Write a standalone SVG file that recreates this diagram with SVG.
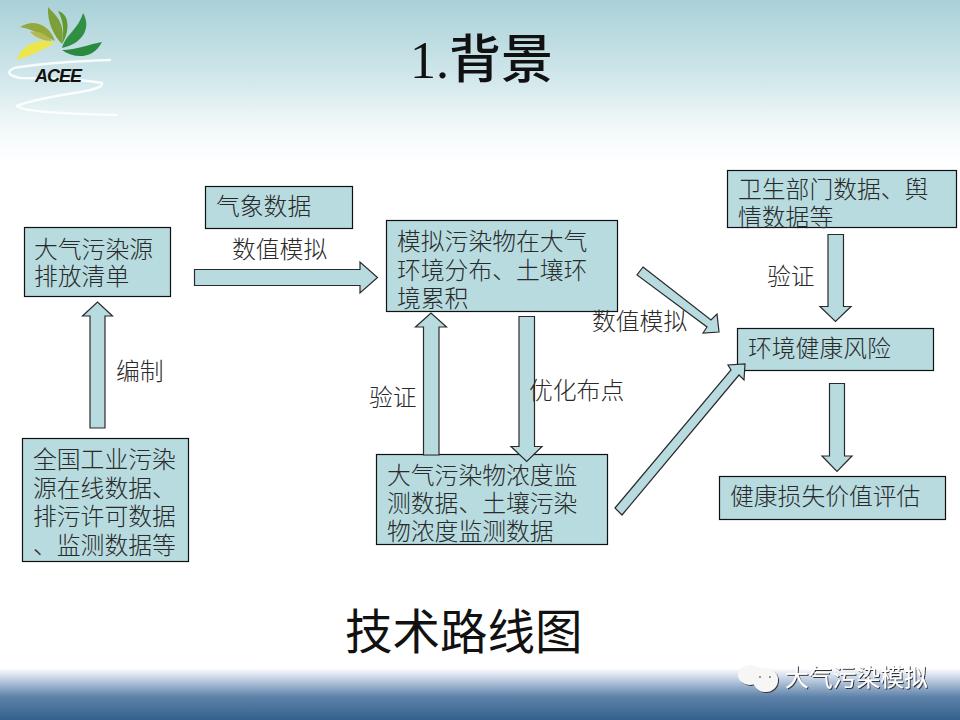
<svg xmlns="http://www.w3.org/2000/svg" width="960" height="720" viewBox="0 0 960 720">
<style>
.b{fill:#b7dbdf;stroke:#111;stroke-width:1.2}
.a{fill:#b7dbdf;stroke:#2a2a2a;stroke-width:1.2;stroke-linejoin:miter}
text{font-family:"Liberation Serif","Noto Sans CJK SC",serif;font-weight:300;fill:#2a2a2a}
.t{font-size:23.8px}
.l{font-size:23.8px}
.sw{fill:none;stroke:#fff;stroke-width:2.500;opacity:.85;stroke-linecap:round}
</style>
<defs>
<linearGradient id="sky" x1="0" y1="0" x2="0" y2="1">
<stop offset="0" stop-color="#a9d1d8"/><stop offset="0.45" stop-color="#cfe6ea"/><stop offset="0.8" stop-color="#f4fafb"/><stop offset="1" stop-color="#fff"/>
</linearGradient>
<linearGradient id="sea" x1="0" y1="0" x2="0" y2="1">
<stop offset="0" stop-color="#ffffff"/><stop offset="0.2" stop-color="#c5d3e6"/><stop offset="0.55" stop-color="#5f83aa"/><stop offset="1" stop-color="#34608e"/>
</linearGradient>
<filter id="sh" x="-10%" y="-20%" width="120%" height="150%"><feDropShadow dx="1" dy="1" stdDeviation="0.7" flood-color="#333"/></filter>
</defs>
<rect width="960" height="720" fill="#fff"/>
<rect width="960" height="165" fill="url(#sky)"/>
<rect y="668" width="960" height="52" fill="url(#sea)"/>

<g id="logo">
<path class="sw" d="M110 60Q50 62 14 68Q2 74 20 78Q70 78 102 83Q104 88 80 92Q30 100 17 106Q22 113 117 115"/>
<path d="M48 7C55 15 66 22 62 44C54 36 47 22 48 7Z" fill="#7c9f37"/>
<path d="M58 11C70 14 70 32 62 44C64 32 64 22 58 11Z" fill="#5f9a33"/>
<path d="M20 27C38 16 52 30 55 41C44 36 32 29 20 27Z" fill="#94a83d"/>
<path d="M30 32C38 30 48 36 52 41C44 41 36 38 30 32Z" fill="#b3b94c"/>
<path d="M83 13C92 28 82 44 62 48C66 34 78 30 83 13Z" fill="#2f8f42"/>
<path d="M102 42C94 58 76 60 62 50C76 50 90 44 102 42Z" fill="#2b8a3e"/>
<path d="M17 60C19 48 36 36 55 43C42 50 30 56 17 60Z" fill="#ece64c"/>
<text x="35" y="82" style="font-family:'Liberation Sans',sans-serif;font-size:18px;font-weight:700;font-style:italic;fill:#111;letter-spacing:-1px">ACEE</text>
</g>

<text id="title" x="410" y="78" style="font-size:52px;font-weight:500;fill:#111">1.背景</text>

<g id="n-qixiang"><rect class="b" x="205.500" y="186.500" width="147" height="42"/><text class="t" x="216" y="215">气象数据</text></g>
<g id="n-qingdan"><rect class="b" x="24.500" y="227.500" width="146" height="69"/><text class="t" x="34" y="258">大气污染源</text><text class="t" x="34" y="285">排放清单</text></g>
<g id="n-gongye"><rect class="b" x="22.500" y="438.500" width="166" height="123"/><text class="t" x="33" y="468">全国工业污染</text><text class="t" x="33" y="497">源在线数据、</text><text class="t" x="33" y="525">排污许可数据</text><text class="t" x="33" y="554">、监测数据等</text></g>
<g id="n-moni"><rect class="b" x="386.500" y="220.500" width="231" height="91"/><text class="t" x="397" y="250">模拟污染物在大气</text><text class="t" x="397" y="279">环境分布、土壤环</text><text class="t" x="397" y="307">境累积</text></g>
<g id="n-jiance"><rect class="b" x="376.500" y="454.500" width="231" height="90"/><text class="t" x="387" y="484">大气污染物浓度监</text><text class="t" x="387" y="512">测数据、土壤污染</text><text class="t" x="387" y="540">物浓度监测数据</text></g>
<g id="n-weisheng"><rect class="b" x="727.500" y="170.500" width="229" height="57"/><text class="t" x="738" y="198">卫生部门数据、舆</text><text class="t" x="738" y="226">情数据等</text></g>
<g id="n-fengxian"><rect class="b" x="737.500" y="328.500" width="196" height="42"/><text class="t" x="748" y="357">环境健康风险</text></g>
<g id="n-sunshi"><rect class="b" x="719.500" y="476.500" width="226" height="43"/><text class="t" x="730" y="505">健康损失价值评估</text></g>

<g id="connectors">
<path class="a" d="M194.500 269.500H360V262L377.500 277.500L360 293V285.500H194.500Z"/>
<path class="a" d="M90 428V316H82.500L97.500 302L112.500 316H105V428Z"/>
<path class="a" d="M423.500 455V327H415.500L431 313L446.500 327H439V455Z"/>
<path class="a" d="M519 316.500H534.500V446.500H542L526.700 461.500L511 446.500H519Z"/>
<path class="a" d="M643 267L711 320L717 314L719 332L703 333L707 327L637 275Z"/>
<path class="a" d="M615 508L731 370L728 365L745 364L744 380L739 375L622 515Z"/>
<path class="a" d="M828 234.500H843.500V306.500H851L835.500 321.500L820 306.500H828Z"/>
<path class="a" d="M829.500 383.500H844.500V456H852L837 471.500L822 456H829.500Z"/>
</g>

<g id="labels">
<text class="l" x="232" y="258">数值模拟</text>
<text class="l" x="116" y="380">编制</text>
<text class="l" x="369" y="406">验证</text>
<text class="l" x="529" y="399">优化布点</text>
<text class="l" x="592" y="330">数值模拟</text>
<text class="l" x="767" y="285">验证</text>
</g>

<text id="caption" x="345" y="649" style="font-size:47.500px;font-weight:400;fill:#111">技术路线图</text>

<g id="watermark">
<g filter="url(#sh)">
<ellipse cx="750" cy="675" rx="12" ry="10" fill="#f6f6f6"/>
<ellipse cx="765.500" cy="680" rx="12.500" ry="12" fill="#f6f6f6"/>
</g>
<circle cx="760" cy="677" r="1" fill="#777"/><circle cx="770" cy="677" r="1" fill="#777"/>
<text x="785" y="686" filter="url(#sh)" style="font-size:23.8px;font-weight:400;fill:#fff">大气污染模拟</text>
</g>
</svg>
